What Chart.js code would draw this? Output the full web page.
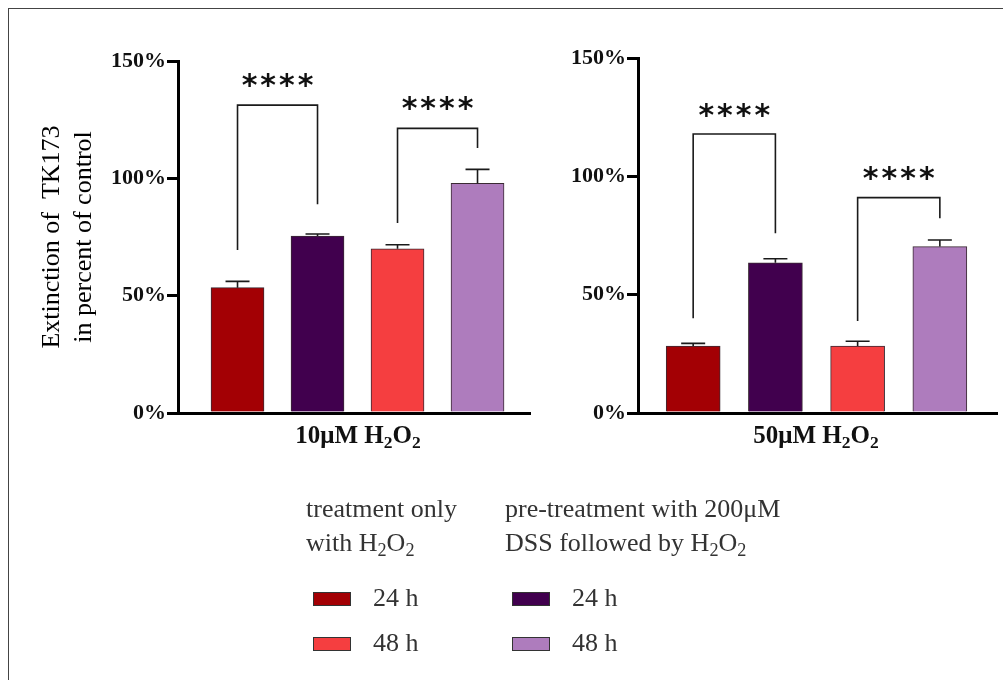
<!DOCTYPE html>
<html>
<head>
<meta charset="utf-8">
<script src="https://cdn.jsdelivr.net/npm/chart.js@4"></script>
<style>
    body { margin: 0; background: #fff; }
    #page { position: relative; width: 1003px; height: 680px; overflow: hidden; font-family: "Liberation Serif", serif; }
    #frame { position: absolute; left: 8px; top: 8px; width: 1000px; height: 700px; border-left: 1px solid #444; border-top: 1px solid #444; }
    .cv { position: absolute; top: 0; }
    .cat { position: absolute; top: 421px; font-weight: bold; font-size: 25px; color: #111; text-align: center; width: 200px; }
    .cat sub, .leg sub { font-size: 70%; vertical-align: -0.3em; line-height: 0; }
    .leg { position: absolute; font-size: 26px; color: #333; line-height: 34px; white-space: nowrap; }
    .sw { position: absolute; width: 38px; height: 14px; border: 1px solid #333; box-sizing: border-box; }
</style>
</head>
<body>
<div id="page">
    <div id="frame"></div>
    <canvas id="chart10" class="cv" style="left:0px"></canvas>
    <canvas id="chart50" class="cv" style="left:530px"></canvas>

    <div class="cat" style="left:258px">10μM H<sub>2</sub>O<sub>2</sub></div>
    <div class="cat" style="left:716px">50μM H<sub>2</sub>O<sub>2</sub></div>

    <div class="leg" style="left:306px; top:492px">treatment only<br>with H<sub>2</sub>O<sub>2</sub></div>
    <div class="leg" style="left:505px; top:492px">pre-treatment with 200μM<br>DSS followed by H<sub>2</sub>O<sub>2</sub></div>

    <div class="sw" id="sw0" style="left:313px; top:592px"></div>
    <div class="leg" style="left:373px; top:581px">24 h</div>
    <div class="sw" id="sw2" style="left:313px; top:637px"></div>
    <div class="leg" style="left:373px; top:626px">48 h</div>
    <div class="sw" id="sw1" style="left:512px; top:592px"></div>
    <div class="leg" style="left:572px; top:581px">24 h</div>
    <div class="sw" id="sw3" style="left:512px; top:637px"></div>
    <div class="leg" style="left:572px; top:626px">48 h</div>
</div>

<script>
// groups, in the order the bars are drawn
var groups = ['H2O2 only, 24 h', 'DSS + H2O2, 24 h', 'H2O2 only, 48 h', 'DSS + H2O2, 48 h'];
var barColors = ['#a30004', '#41004e', '#f53e40', '#ae7cbd'];

// 10 uM H2O2 (mean and upper SEM, % of control)
var mean10 = [53.4, 75.4, 70.0, 97.9];
var err10 = [2.7, 0.9, 1.7, 5.9];

// 50 uM H2O2
var mean50 = [28.3, 63.5, 28.3, 70.3];
var err50 = [1.1, 1.7, 2.0, 2.8];

// significance brackets: [from bar, to bar, bracket top, left leg end, right leg end, star height]
var brackets10 = [[0, 1, 131.2, 69.5, 89.0, 141.9], [2, 3, 121.3, 81.0, 112.9, 132.0]];
var brackets50 = [[0, 1, 117.9, 40.0, 75.9, 128.0], [2, 3, 91.0, 38.9, 82.3, 101.3]];
var starText = '****';

var yTicks = [0, 50, 100, 150];

// legend swatches take the bar colours
for (var i = 0; i < 4; i++) {
    document.getElementById('sw' + i).style.background = barColors[i];
}

// draws the error caps and the **** brackets
var markPlugin = {
    id: 'marks',
    afterDatasetsDraw: function(chart, args, opts) {
        var ctx = chart.ctx;
        var xs = chart.scales.x, ys = chart.scales.y;
        ctx.save();
        ctx.strokeStyle = '#1a1a1a';
        ctx.lineWidth = 1.6;

        // error bars, upper side only
        for (var i = 0; i < opts.mean.length; i++) {
            var x = xs.getPixelForValue(i + 1);
            var y0 = ys.getPixelForValue(opts.mean[i]);
            var y1 = ys.getPixelForValue(opts.mean[i] + opts.err[i]);
            ctx.beginPath();
            ctx.moveTo(x, y0);
            ctx.lineTo(x, y1);
            ctx.moveTo(x - 12, y1);
            ctx.lineTo(x + 12, y1);
            ctx.stroke();
        }

        // brackets
        ctx.font = 'bold 30px "DejaVu Sans"';
        ctx.letterSpacing = '3px';
        ctx.fillStyle = '#111';
        ctx.textAlign = 'center';
        ctx.textBaseline = 'alphabetic';
        opts.brackets.forEach(function(b) {
            var xa = xs.getPixelForValue(b[0] + 1);
            var xb = xs.getPixelForValue(b[1] + 1);
            var top = ys.getPixelForValue(b[2]);
            ctx.beginPath();
            ctx.moveTo(xa, ys.getPixelForValue(b[3]));
            ctx.lineTo(xa, top);
            ctx.lineTo(xb, top);
            ctx.lineTo(xb, ys.getPixelForValue(b[4]));
            ctx.stroke();

            var m = ctx.measureText(starText);
            var cy = ys.getPixelForValue(b[5]);
            var base = cy + (m.actualBoundingBoxAscent - m.actualBoundingBoxDescent) / 2;
            ctx.fillText(starText, (xa + xb) / 2 + 1.5, base);
        });
        ctx.restore();
    }
};

function makeChart(id, width, mean, err, brackets, opt) {
    var canvas = document.getElementById(id);
    canvas.style.width = width + 'px';
    canvas.style.height = '680px';

    var points = [];
    for (var i = 0; i < mean.length; i++) {
        points.push({x: i + 1, y: mean[i]});
    }

    return new Chart(canvas, {
        type: 'bar',
        data: {
            datasets: [{
                label: 'Extinction',
                data: points,
                backgroundColor: barColors,
                borderColor: '#3a2a33',
                borderWidth: 1,
                barThickness: opt.barWidth
            }]
        },
        plugins: [markPlugin],
        options: {
            responsive: false,
            animation: false,
            events: [],
            layout: {
                padding: {top: opt.top, left: 0, right: opt.right, bottom: 267}
            },
            scales: {
                x: {
                    type: 'linear',
                    offset: false,
                    min: opt.xmin,
                    max: opt.xmax,
                    grid: {display: false, offset: false},
                    ticks: {display: false},
                    border: {color: '#000', width: 3},
                    afterFit: function(scale) { scale.height = 0; }
                },
                y: {
                    min: 0,
                    max: 150,
                    afterBuildTicks: function(scale) {
                        scale.ticks = yTicks.map(function(v) { return {value: v}; });
                    },
                    grid: {drawOnChartArea: false, drawTicks: true, tickLength: 11, color: '#000', lineWidth: 3},
                    border: {color: '#000', width: 3},
                    ticks: {
                        color: '#111',
                        padding: 1,
                        font: {family: 'Liberation Serif', size: 22, weight: 'bold'},
                        callback: function(v) { return v + '%'; }
                    },
                    title: {
                        display: opt.yTitle != null,
                        text: opt.yTitle,
                        color: '#000',
                        padding: {top: 37, bottom: 0},
                        font: {family: 'Liberation Serif', size: 26, weight: 'normal', lineHeight: 1.2}
                    },
                    afterFit: function(scale) { scale.width = opt.axisX; }
                }
            },
            plugins: {
                legend: {display: false},
                tooltip: {enabled: false},
                marks: {mean: mean, err: err, brackets: brackets}
            }
        }
    });
}

makeChart('chart10', 540, mean10, err10, brackets10, {
    top: 61, right: 10, axisX: 178, barWidth: 53, xmin: 0.256, xmax: 4.656,
    yTitle: ['Extinction of  TK173', 'in percent of control']
});

makeChart('chart50', 473, mean50, err50, brackets50, {
    top: 58, right: 6, axisX: 108, barWidth: 54, xmin: 0.329, xmax: 4.695,
    yTitle: null
});
</script>
</body>
</html>
